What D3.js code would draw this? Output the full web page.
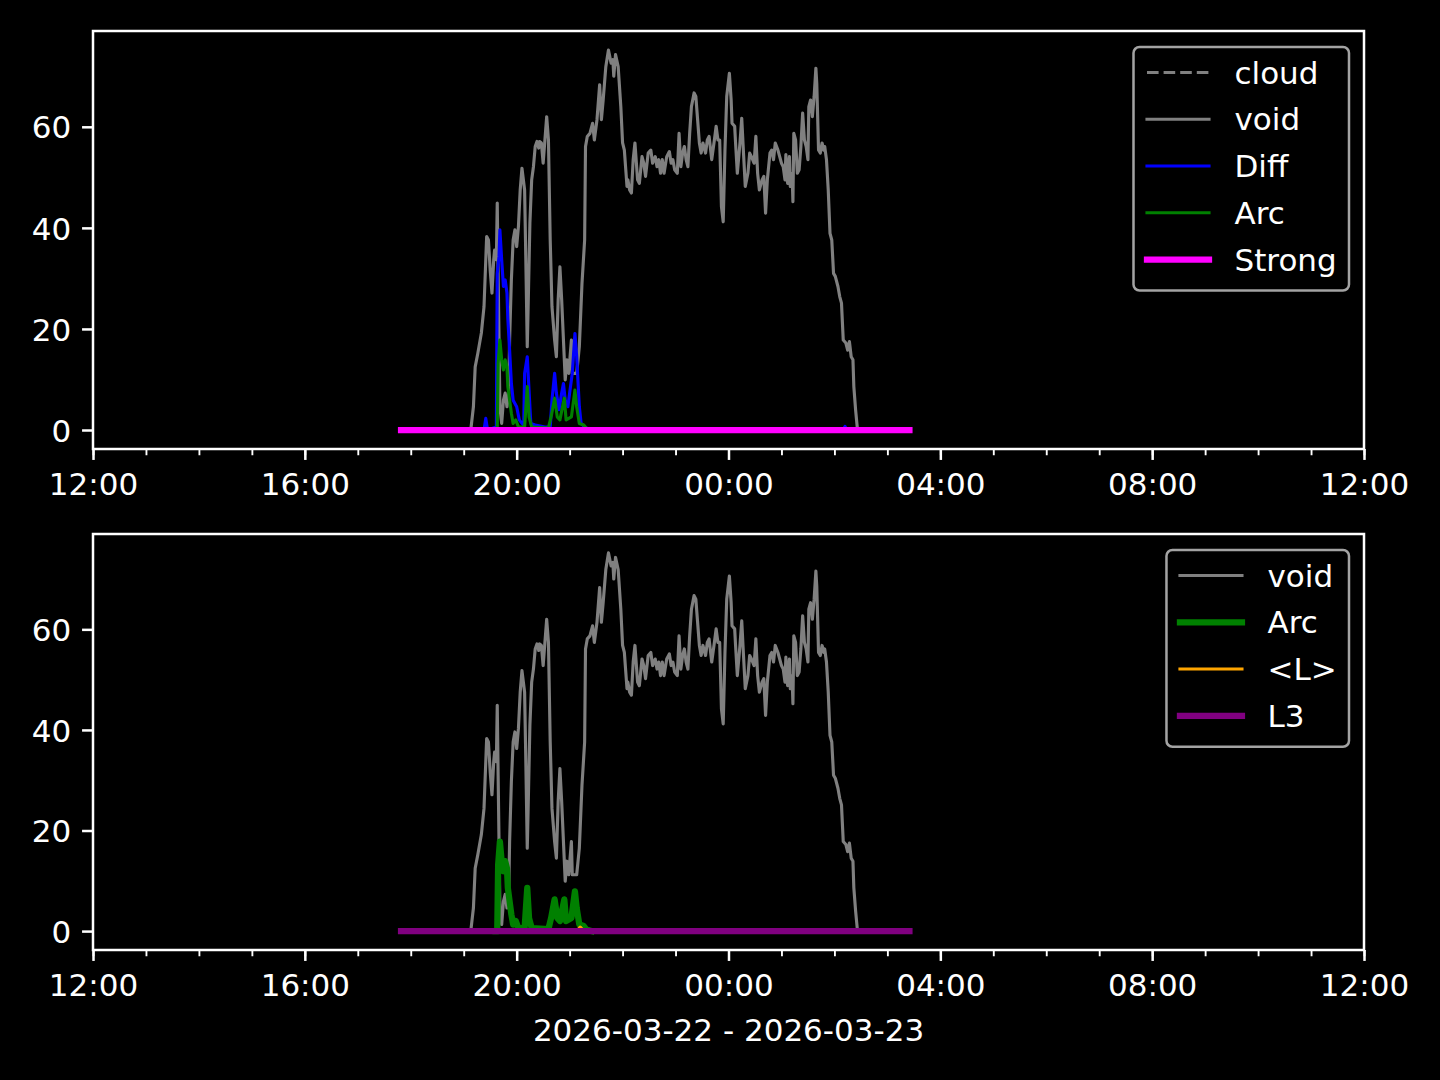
<!DOCTYPE html>
<html>
<head>
	<meta charset="utf-8">
	<script src="https://cdnjs.cloudflare.com/ajax/libs/d3/7.8.5/d3.min.js"></script>
	<style>
	body { margin: 0; background: #000; }
	svg { display: block; background: #000; }
	text { font-family: "DejaVu Sans", sans-serif; font-size: 31px; fill: #fff; }
	.line { fill: none; stroke-linejoin: round; stroke-linecap: square; }
	</style>
</head>
<body>
	<svg width="1440" height="1080"></svg>
	<script>
	// axis range and labels
	const xStart = "2026-03-22 12:00", xEnd = "2026-03-23 12:00";
	const yTicks = [0, 20, 40, 60];
	const xLabel = "2026-03-22 - 2026-03-23";

	// series, [time, value]; times before 12:00 belong to the next day
	const cloudData = [];
	const voidData = [
		["19:08",0],["19:11",4.6],["19:13",12.5],["19:16",15.2],["19:20",19.2],["19:23",24.4],["19:26",38.3],["19:28",37.6],
		["19:30",31.7],["19:32",27.1],["19:34",33.7],["19:35",35.6],["19:37",33.7],["19:38",44.9],["19:39",31.0],["19:41",4.6],
		["19:43",1.3],["19:45",5.9],["19:47",7.3],["19:49",4.6],["19:51",7.3],["19:52",17.8],["19:54",29.7],["19:56",37.6],
		["19:58",39.6],["20:00",36.3],["20:02",40.3],["20:04",47.5],["20:06",51.8],["20:09",47.5],["20:10",37.6],["20:12",16.5],
		["20:13",24.4],["20:15",41.0],["20:17",49.5],["20:19",52.1],["20:21",56.1],["20:23",57.1],["20:25",55.8],["20:26",57.1],
		["20:28",56.8],["20:30",52.8],["20:32",57.4],["20:34",62.0],["20:36",57.4],["20:38",37.6],["20:40",24.4],["20:43",17.8],
		["20:45",14.5],["20:47",25.7],["20:49",32.3],["20:51",25.7],["20:53",17.8],["20:55",9.9],["20:57",13.9],["20:59",11.2],
		["21:02",17.8],["21:03",11.2],["21:08",11.2],["21:11",16.5],["21:14",29.0],["21:17",37.6],["21:18",56.1],["21:20",58.1],
		["21:23",58.7],["21:26",60.7],["21:28",57.4],["21:31",61.4],["21:34",68.3],["21:36",61.4],["21:38",65.3],["21:41",71.9],
		["21:44",75.2],["21:47",72.6],["21:49",73.3],["21:50",70.0],["21:52",74.3],["21:55",71.9],["21:58",64.0],["22:00",56.8],
		["22:02",55.4],["22:05",48.2],["22:06",49.5],["22:08",47.5],["22:10",46.9],["22:12",53.5],["22:14",56.8],["22:17",49.5],
		["22:19",48.8],["22:22",54.1],["22:24",52.8],["22:26",50.2],["22:29",54.8],["22:32",55.4],["22:34",52.8],["22:37",54.1],
		["22:39",52.1],["22:41",53.5],["22:43",50.8],["22:45",53.5],["22:47",50.8],["22:50",54.1],["22:53",55.1],["22:55",52.8],
		["22:57",53.5],["22:59",51.5],["23:02",50.8],["23:04",58.7],["23:06",52.1],["23:08",54.8],["23:10",56.1],["23:12",53.5],
		["23:14",52.1],["23:16",58.7],["23:18",64.0],["23:21",66.7],["23:23",66.0],["23:25",61.4],["23:27",56.8],["23:29",54.8],
		["23:31",56.8],["23:34",54.8],["23:36",57.4],["23:38",58.1],["23:41",53.5],["23:44",57.4],["23:46",60.1],["23:48",57.4],
		["23:50",57.4],["23:52",44.2],["23:54",41.2],["23:56",55.4],["23:58",66.0],["00:01",70.6],["00:03",65.3],["00:04",60.7],
		["00:07",60.1],["00:08",56.8],["00:10",50.8],["00:13",56.8],["00:15",61.7],["00:17",54.8],["00:19",48.2],["00:22",50.8],
		["00:24",54.8],["00:26",54.1],["00:29",52.8],["00:31",58.1],["00:33",50.8],["00:35",47.5],["00:38",49.5],["00:40",50.2],
		["00:42",42.9],["00:44",49.5],["00:47",54.8],["00:49",55.4],["00:51",53.5],["00:53",56.8],["00:56",55.4],["00:58",54.1],
		["01:00",52.8],["01:02",52.1],["01:04",49.5],["01:05",54.5],["01:07",48.8],["01:09",54.1],["01:10",48.2],["01:12",50.8],
		["01:13",45.2],["01:14",58.7],["01:16",57.4],["01:18",50.8],["01:20",51.5],["01:22",56.1],["01:24",62.7],["01:26",57.4],
		["01:28",56.1],["01:30",53.5],["01:31",64.0],["01:33",65.3],["01:35",62.0],["01:37",66.0],["01:39",71.6],["01:40",68.6],
		["01:42",55.4],["01:44",54.8],["01:46",56.8],["01:48",55.4],["01:49",56.1],["01:51",53.5],["01:53",47.5],["01:55",38.9],
		["01:57",37.6],["01:59",31.0],["02:01",30.4],["02:04",28.4],["02:06",26.4],["02:08",25.1],["02:10",17.8],["02:13",17.2],
		["02:15",15.8],["02:17",17.5],["02:19",14.5],["02:21",13.9],["02:22",8.6],["02:24",4.0],["02:26",0.3],["02:28",0]
	];
	const diffData = [
		["19:20",0],["19:23",0],["19:25",2.3],["19:27",0],["19:37",0.6],["19:38",31.0],["19:40",34.3],["19:41",39.6],
		["19:43",33.7],["19:45",28.4],["19:47",29.7],["19:49",27.1],["19:50",22.0],["19:52",15.8],["19:54",9.2],["19:56",5.9],
		["20:00",4.6],["20:03",2.0],["20:06",1.3],["20:08",1.0],["20:09",11.2],["20:12",14.5],["20:14",7.9],["20:16",1.3],
		["20:21",1.0],["20:32",0.6],["20:38",0.6],["20:40",5.9],["20:43",11.2],["20:45",7.3],["20:48",4.0],["20:51",7.3],
		["20:53",9.2],["20:55",5.9],["20:58",4.6],["21:00",7.3],["21:03",11.2],["21:06",19.1],["21:08",14.5],["21:11",4.6],
		["21:13",1.3],["21:17",0.6],["21:23",0],["02:10",0],["02:12",0.7],["02:14",0]
	];
	const arcData = [
		["19:36",0],["19:38",0],["19:39",13.2],["19:41",17.8],["19:43",13.9],["19:45",11.9],["19:47",13.9],["19:49",12.5],
		["19:50",8.6],["19:52",5.9],["19:54",3.3],["19:56",1.3],["19:59",2.0],["20:02",0.6],["20:09",0.6],["20:12",8.6],
		["20:14",2.6],["20:17",0.6],["20:36",0.4],["20:39",2.6],["20:43",6.3],["20:46",2.6],["20:49",2.0],["20:54",6.3],
		["20:56",2.0],["21:02",2.6],["21:06",7.9],["21:08",4.6],["21:11",1.3],["21:16",1.0],["21:19",0.3],["21:25",0]
	];
	const strongData = [["17:49",0],["03:25",0]];
	const lMeanData = [["17:49",0],["21:08",0],["21:12",0.8],["21:16",0],["03:25",0]];
	const l3Data = [["17:49",0],["03:25",0]];

	let parseFull = d3.timeParse("%Y-%m-%d %H:%M");
	function toDate(hm) {
		return parseFull((+hm.slice(0, 2) < 12 ? "2026-03-23 " : "2026-03-22 ") + hm);
	}

	const pt = 3.125; // 1pt in px
	let svg = d3.select("svg");
	let left = 93, right = 1364;

	let panels = [
		{y0: 31, y1: 449, series: [
			{name: "cloud", data: cloudData, color: "#808080", lw: 1, dash: "11.6,5"},
			{name: "void", data: voidData, color: "#808080", lw: 1},
			{name: "Diff", data: diffData, color: "#0000ff", lw: 1},
			{name: "Arc", data: arcData, color: "#008000", lw: 1},
			{name: "Strong", data: strongData, color: "#ff00ff", lw: 2}
		]},
		{y0: 534, y1: 950, series: [
			{name: "void", data: voidData, color: "#808080", lw: 1},
			{name: "Arc", data: arcData, color: "#008000", lw: 2},
			{name: "<L>", data: lMeanData, color: "#ffa500", lw: 1},
			{name: "L3", data: l3Data, color: "#800080", lw: 2}
		]}
	];

	let x = d3.scaleTime().domain([parseFull(xStart), parseFull(xEnd)]).range([left, right]);

	panels.forEach(function(p) {
		let all = p.series.flatMap(function(s) { return s.data.map(function(d) { return d[1]; }); });
		let lo = d3.min(all), hi = d3.max(all), m = (hi - lo) * 0.05;
		let y = d3.scaleLinear().domain([lo - m, hi + m]).range([p.y1, p.y0]);
		let g = svg.append("g");

		let line = d3.line()
			.x(function(d) { return x(toDate(d[0])); })
			.y(function(d) { return y(d[1]); });

		//data lines
		p.series.forEach(function(s) {
			if (!s.data.length) return;
			g.append("path")
				.attr("class", "line")
				.attr("d", line(s.data))
				.attr("stroke", s.color)
				.attr("stroke-width", s.lw * pt);
		});

		//minor x ticks
		g.append("g")
			.attr("transform", "translate(0," + p.y1 + ")")
			.call(d3.axisBottom(x).ticks(d3.timeHour.every(1)).tickSize(2 * pt).tickFormat(""))
			.call(function(a) { a.select(".domain").remove(); a.selectAll("line").attr("stroke", "#fff").attr("stroke-width", 0.6 * pt); });

		//major x ticks
		g.append("g")
			.attr("transform", "translate(0," + p.y1 + ")")
			.call(d3.axisBottom(x).ticks(d3.timeHour.every(4)).tickSize(3.5 * pt).tickFormat(d3.timeFormat("%H:%M")))
			.call(function(a) {
				a.attr("font-family", null).attr("font-size", null);
				a.select(".domain").remove();
				a.selectAll("line").attr("stroke", "#fff").attr("stroke-width", 0.8 * pt);
				a.selectAll("text").attr("y", 46).attr("dy", null).attr("fill", "#fff");
			});

		//y axis
		g.append("g")
			.attr("transform", "translate(" + left + ",0)")
			.call(d3.axisLeft(y).tickValues(yTicks).tickSize(3.5 * pt).tickPadding(3.5 * pt))
			.call(function(a) {
				a.attr("font-family", null).attr("font-size", null);
				a.select(".domain").remove();
				a.selectAll("line").attr("stroke", "#fff").attr("stroke-width", 0.8 * pt);
				a.selectAll("text").attr("dy", "0.36em").attr("fill", "#fff");
			});

		//frame
		g.append("rect")
			.attr("x", left).attr("y", p.y0)
			.attr("width", right - left).attr("height", p.y1 - p.y0)
			.attr("fill", "none").attr("stroke", "#fff").attr("stroke-width", 0.8 * pt);

		//legend
		let leg = g.append("g");
		let box = leg.append("rect");
		let rowTop = p.y0 + 16 + 25.5, step = 46.75;
		let texts = [];
		p.series.forEach(function(s, i) {
			let ry = rowTop + i * step;
			texts.push(leg.append("text").attr("y", ry + 11).text(s.name));
			s.ry = ry;
		});
		let tw = d3.max(texts, function(t) { return t.node().getComputedTextLength(); });
		let bx0 = right - 15 - (101 + tw + 12.3);
		box.attr("x", bx0).attr("y", p.y0 + 16)
			.attr("width", 101 + tw + 12.3)
			.attr("height", 25.5 + (p.series.length - 1) * step + 31)
			.attr("rx", 6).attr("ry", 6)
			.attr("fill", "#000").attr("stroke", "#a3a3a3").attr("stroke-width", 0.8 * pt);
		texts.forEach(function(t) { t.attr("x", bx0 + 101); });
		p.series.forEach(function(s) {
			leg.append("line")
				.attr("x1", bx0 + 13.5).attr("x2", bx0 + 13.5 + 62)
				.attr("y1", s.ry).attr("y2", s.ry)
				.attr("stroke", s.color)
				.attr("stroke-width", s.lw * pt)
				.attr("stroke-linecap", s.dash ? "butt" : "square")
				.attr("stroke-dasharray", s.dash || null);
		});
	});

	//x label
	svg.append("text")
		.attr("x", (left + right) / 2)
		.attr("y", 1041)
		.attr("text-anchor", "middle")
		.text(xLabel);
	</script>
</body>
</html>
